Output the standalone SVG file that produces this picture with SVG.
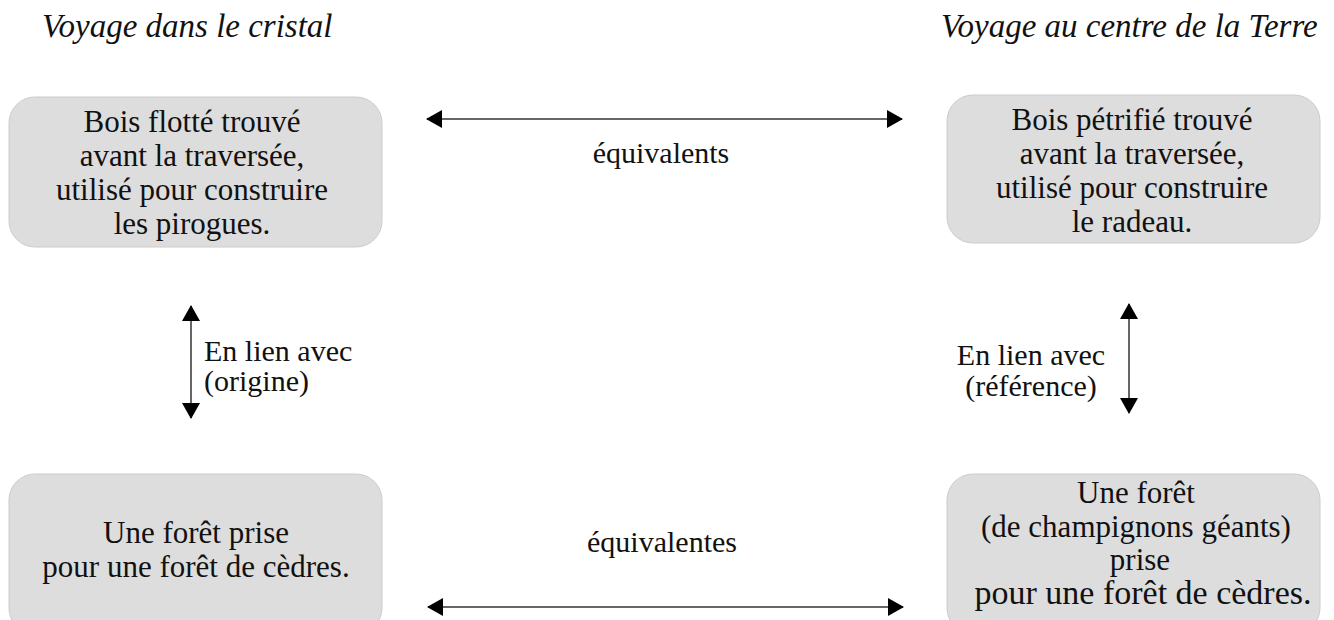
<svg xmlns="http://www.w3.org/2000/svg" width="1334" height="620" viewBox="0 0 1334 620">
<style>
.box{fill:#dddddd;stroke:#cccccc;stroke-width:1}
.t{font-family:"Liberation Serif",serif;font-size:31px;fill:#111111}
.l{font-family:"Liberation Serif",serif;font-size:30px;fill:#111111}
.c{text-anchor:middle}
.ti{font-family:"Liberation Serif",serif;font-size:33px;font-style:italic;fill:#111111}
.ln{stroke:#666666;stroke-width:2;fill:none}
</style>
<defs>
<marker id="ah" viewBox="0 0 16 18" refX="15" refY="9" markerWidth="16" markerHeight="18" markerUnits="userSpaceOnUse" orient="auto-start-reverse">
<path d="M0,0 L16,9 L0,18 Z" fill="#000000"/>
</marker>
</defs>
<rect width="1334" height="620" fill="#ffffff"/>
<text class="ti" x="42" y="37">Voyage dans le cristal</text>
<text class="ti" x="941" y="37">Voyage au centre de la Terre</text>
<g id="n1">
<rect class="box" x="9" y="97" width="373" height="150" rx="26"/>
<text class="t c" x="192" y="132">Bois flotté trouvé</text>
<text class="t c" x="192" y="166">avant la traversée,</text>
<text class="t c" x="192" y="200">utilisé pour construire</text>
<text class="t c" x="192" y="234">les pirogues.</text>
</g>
<g id="n2">
<rect class="box" x="947" y="95" width="373" height="148" rx="26"/>
<text class="t c" x="1132" y="130">Bois pétrifié trouvé</text>
<text class="t c" x="1132" y="164">avant la traversée,</text>
<text class="t c" x="1132" y="198">utilisé pour construire</text>
<text class="t c" x="1132" y="232">le radeau.</text>
</g>
<g id="n3">
<rect class="box" x="9" y="474" width="373" height="160" rx="26"/>
<text class="t c" x="196" y="543">Une forêt prise</text>
<text class="t c" x="196" y="577">pour une forêt de cèdres.</text>
</g>
<g id="n4">
<rect class="box" x="947" y="474" width="373" height="160" rx="26"/>
<text class="t c" x="1136" y="503">Une forêt</text>
<text class="t c" x="1136" y="537">(de champignons géants)</text>
<text class="t c" x="1140" y="570">prise</text>
<text class="t c" x="1143" y="604" style="font-size:34px">pour une forêt de cèdres.</text>
</g>
<g id="connectors">
<line class="ln" x1="427" y1="119" x2="902" y2="119" marker-start="url(#ah)" marker-end="url(#ah)"/>
<text class="l c" x="661" y="163">équivalents</text>
<line class="ln" x1="191" y1="306" x2="191" y2="418" marker-start="url(#ah)" marker-end="url(#ah)"/>
<text class="l" x="204" y="361">En lien avec</text>
<text class="l" x="204" y="391">(origine)</text>
<line class="ln" x1="1129" y1="304" x2="1129" y2="413" marker-start="url(#ah)" marker-end="url(#ah)"/>
<text class="l c" x="1031" y="365">En lien avec</text>
<text class="l c" x="1031" y="396">(référence)</text>
<line class="ln" x1="428" y1="607" x2="903" y2="607" marker-start="url(#ah)" marker-end="url(#ah)"/>
<text class="l c" x="662" y="552">équivalentes</text>
</g>
</svg>
